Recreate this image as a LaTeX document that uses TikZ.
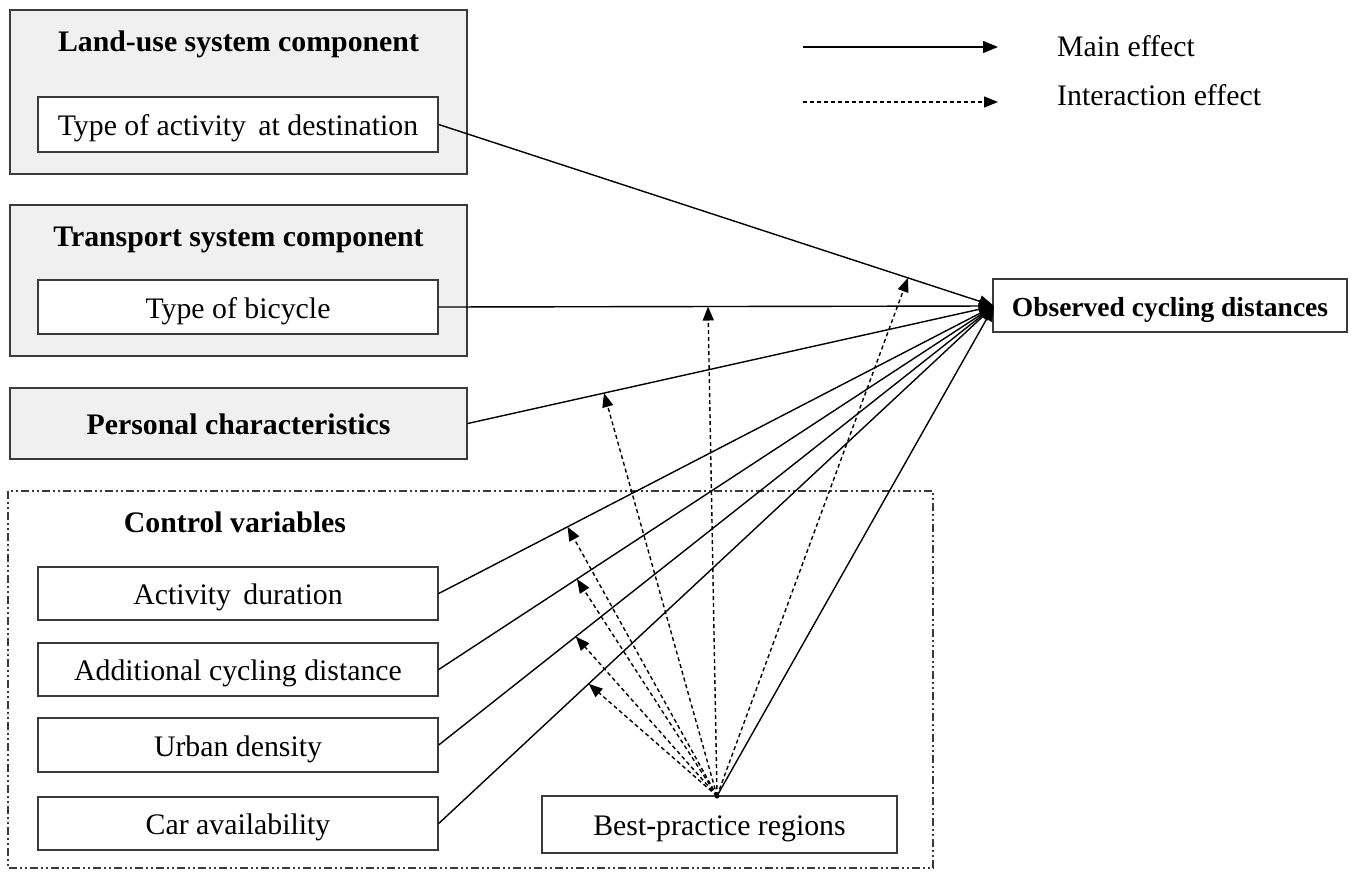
\documentclass[tikz,border=0pt]{standalone}
\usepackage{fontspec}
\setmainfont{Liberation Serif}
\usetikzlibrary{arrows.meta}
\definecolor{boxgray}{HTML}{F0F0F0}
\definecolor{edge}{HTML}{3A3A3A}
\tikzset{
  outerbox/.style={draw=edge, line width=1.4pt, fill=boxgray, inner sep=0pt, text height=28pt, text depth=6pt},
  innerbox/.style={draw=edge, line width=1.4pt, fill=white, inner sep=0pt, text height=28pt, text depth=6pt, font=\fontsize{29.8}{34}\selectfont},
  ttl/.style={font=\fontsize{29.8}{34}\selectfont\bfseries, inner sep=0pt, text height=28pt, text depth=6pt},
  lbl/.style={font=\fontsize{29.8}{34}\selectfont, inner sep=0pt, anchor=west, text height=24pt, text depth=6pt},
  main/.style={line width=1.4pt, -{Triangle[length=15pt,width=12pt]}},
  inter/.style={line width=1.4pt, dash pattern=on 4pt off 3pt, -{Triangle[length=14pt,width=11pt]}},
}
\begin{document}
\begin{tikzpicture}[x=1pt,y=-1pt]
\useasboundingbox (0,0) rectangle (1352,871);
% outer grey boxes
\node[outerbox, minimum width=457pt, minimum height=164pt] (landbox) at (238.5,92) {};
\node[ttl] (landttl) at (238.5,40) {Land-use system component};
\node[innerbox, minimum width=400pt, minimum height=55pt] (act) at (238,124.5) {Type of activity\, at destination};
\node[outerbox, minimum width=457pt, minimum height=151pt] (transbox) at (238.5,280.5) {};
\node[ttl] (transttl) at (238.5,235) {Transport system component};
\node[innerbox, minimum width=400pt, minimum height=54pt] (bike) at (238,307) {Type of bicycle};
\node[outerbox, minimum width=457pt, minimum height=71pt, font=\fontsize{29.8}{34}\selectfont\bfseries] (pers) at (238.5,423.5) {Personal characteristics};
% control variables
\draw[edge, line width=1.4pt, dash pattern=on 8pt off 3pt on 2pt off 3pt on 2pt off 3pt] (8,491) rectangle (933,868);
\node[ttl] (ctrlttl) at (235,521) {Control variables};
\node[innerbox, minimum width=400pt, minimum height=53pt] (dur) at (238,593.5) {Activity\, duration};
\node[innerbox, minimum width=400pt, minimum height=53pt] (add) at (238,669.5) {Additional cycling distance};
\node[innerbox, minimum width=400pt, minimum height=54pt] (urb) at (238,745) {Urban density};
\node[innerbox, minimum width=400pt, minimum height=53pt] (car) at (238,823.5) {Car availability};
\node[innerbox, minimum width=355pt, minimum height=57pt] (bpr) at (719.5,824.5) {Best-practice regions};
\node[innerbox, minimum width=354pt, minimum height=53pt, font=\fontsize{27.5}{32}\selectfont\bfseries] (obs) at (1170,305.5) {Observed cycling distances};
% legend
\coordinate (l1a) at (803,47);
\coordinate (l1b) at (998,47);
\coordinate (l2a) at (803,102);
\coordinate (l2b) at (998,102);
\draw[main] (l1a) -- (l1b);
\draw[inter] (l2a) -- (l2b);
\node[lbl] (lmain) at (1057,47) {Main effect};
\node[lbl] (linter) at (1057,96) {Interaction effect};
% main effects
\coordinate (tgt) at (994,306);
\coordinate (src) at (717,796);
\draw[main] (act.east) -- (tgt) coordinate[pos=0.845] (m1);
\draw[main] (bike.east) -- (tgt) coordinate[pos=0.485] (m2);
\draw[main] (pers.east) -- (tgt) coordinate[pos=0.259] (m3);
\draw[main] (dur.east) -- (tgt) coordinate[pos=0.232] (m4);
\draw[main] (add.east) -- (tgt) coordinate[pos=0.249] (m5);
\draw[main] (urb.east) -- (tgt) coordinate[pos=0.247] (m6);
\draw[main] (car.east) -- (tgt) coordinate[pos=0.27] (m7);
\draw[main] (src) -- (tgt);
% interaction effects
\foreach \m in {m1,m2,m3,m4,m5,m6,m7}{
  \draw[inter] (src) -- (\m);
}
\fill (src) circle (2.5pt);
\end{tikzpicture}
\end{document}
